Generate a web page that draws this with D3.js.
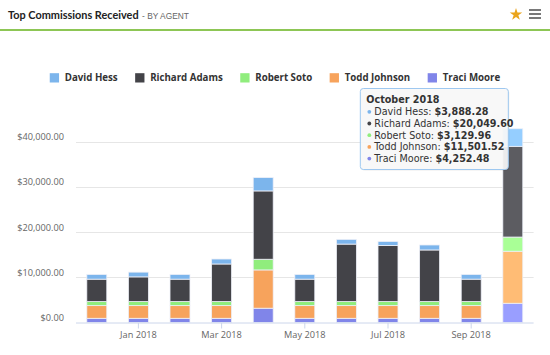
<!DOCTYPE html>
<html><head><meta charset="utf-8">
<script src="https://cdn.jsdelivr.net/npm/d3@7/dist/d3.min.js"></script>
<style>
html,body{margin:0;padding:0;background:#fff;}
svg{display:block;font-family:"Open Sans","Liberation Sans",Arial,sans-serif;}
</style></head>
<body>
<svg id="c" width="550" height="355"></svg>
<script>
const months = ["Dec 2017","Jan 2018","Feb 2018","Mar 2018","Apr 2018","May 2018","Jun 2018","Jul 2018","Aug 2018","Sep 2018","Oct 2018"];
const monthLabels = ["","Jan 2018","","Mar 2018","","May 2018","","Jul 2018","","Sep 2018",""];
const agents = ["David Hess","Richard Adams","Robert Soto","Todd Johnson","Traci Moore"];
const colors = ["#7cb5ec","#434348","#90ed7d","#f7a35c","#8085e9"];
const hoverColors = ["#95ceff","#5c5c61","#a9ff96","#ffbc75","#999eff"];
const davidHess    = [1040,1050,1040,1100,2950,1040,1040,880,1100,1040,3888.28];
const richardAdams = [4950,5450,4950,8300,15100,4950,12700,12400,11400,4950,20049.60];
const robertSoto   = [900,900,900,900,2360,900,900,900,900,900,3129.96];
const toddJohnson  = [2800,2800,2800,2800,8460,2800,2800,2800,2800,2800,11501.52];
const traciMoore   = [930,930,930,930,3160,930,930,930,930,930,4252.48];
const yTicks = [0,10000,20000,30000,40000];
const hoverIndex = 10;
const tooltipTitle = "October 2018";

const series = [davidHess, richardAdams, robertSoto, toddJohnson, traciMoore];
const svg = d3.select("#c");

// header
const title = svg.append("text").attr("x",8).attr("y",19).attr("font-family","Lato,'Liberation Sans',sans-serif")
  .attr("font-weight","bold").attr("font-size",10.9).attr("fill","#222").text("Top Commissions Received");
const tw = title.node().getComputedTextLength();
svg.append("text").attr("x",8+tw+3.5).attr("y",19).attr("font-family","'Liberation Sans Narrow','Liberation Sans',sans-serif")
  .attr("font-size",8.4).attr("fill","#666").text("- BY AGENT");
svg.append("rect").attr("x",0).attr("y",29).attr("width",550).attr("height",2).attr("fill","#8dc655");
svg.append("path").attr("d",d3.symbol(d3.symbolStar,48)()).attr("transform","translate(516,14.5)").attr("fill","#eaa41c");
[10,14,18].forEach(y=>svg.append("line").attr("x1",529).attr("x2",541).attr("y1",y).attr("y2",y).attr("stroke","#6a6a6a").attr("stroke-width",1.8));

// scales
const x = d3.scaleBand().domain(months).range([76,533.6]).paddingInner(0.52).paddingOuter(0.26);
const y = d3.scaleLinear().domain([0,40000]).range([322.5,141.5]);

// grid
svg.append("g").selectAll("line").data(yTicks.filter(d=>d>0)).join("line")
  .attr("x1",76).attr("x2",533.6).attr("y1",d=>Math.round(y(d))+0.5).attr("y2",d=>Math.round(y(d))+0.5)
  .attr("stroke","#e6e6e6").attr("stroke-width",1);
svg.append("g").selectAll("text").data(yTicks).join("text")
  .attr("x",64).attr("y",d=>y(d)-1.5).attr("text-anchor","end").attr("font-size",9.2).attr("fill","#666")
  .text(d=>"$"+d3.format(",.2f")(d));

// stacks (bottom: Traci)
const table = months.map((m,i)=>{const o={month:m}; agents.forEach((a,k)=>o[a]=series[k][i]); return o;});
const stack = d3.stack().keys(agents.slice().reverse())(table);
const gb = svg.append("g");
stack.forEach(layer=>{
  const k = agents.indexOf(layer.key);
  gb.append("g").selectAll("rect").data(layer).join("rect")
    .attr("x",d=>x(d.data.month)).attr("width",x.bandwidth())
    .attr("y",d=>y(d[1])).attr("height",d=>y(d[0])-y(d[1]))
    .attr("fill",(d,i)=>i===hoverIndex?hoverColors[k]:colors[k])
    .attr("stroke","#eef0f8").attr("stroke-width",0.8);
});

// x axis
svg.append("line").attr("x1",76).attr("x2",533.6).attr("y1",323).attr("y2",323).attr("stroke","#ccd6eb");
const labeled = months.filter((m,i)=>monthLabels[i]);
svg.append("g").selectAll("line").data(labeled).join("line")
  .attr("x1",d=>x(d)+x.bandwidth()/2).attr("x2",d=>x(d)+x.bandwidth()/2).attr("y1",323).attr("y2",328.5)
  .attr("stroke","#ccd6eb");
svg.append("g").selectAll("text").data(labeled).join("text")
  .attr("x",d=>x(d)+x.bandwidth()/2).attr("y",337.5).attr("text-anchor","middle").attr("font-size",9.2).attr("fill","#666")
  .text(d=>monthLabels[months.indexOf(d)]);

// legend
const lg = svg.append("g");
const items = agents.map((a,k)=>{
  const g = lg.append("g");
  g.append("rect").attr("y",73.2).attr("width",9.3).attr("height",9.3).attr("fill",colors[k]);
  const t = g.append("text").attr("x",15).attr("y",81.2).attr("font-size",9.7).attr("font-weight","bold").attr("fill","#333").text(a);
  return {g, w:15+t.node().getComputedTextLength()};
});
const gap = 17.5;
const total = d3.sum(items,d=>d.w)+gap*(items.length-1);
let cx = 275-total/2;
items.forEach(it=>{it.g.attr("transform",`translate(${cx},0)`); cx+=it.w+gap;});

// tooltip
const tx = x(months[hoverIndex]) - 142.5, ty = 88.5;
const tg = svg.append("g").attr("font-family","'DejaVu Sans',sans-serif").attr("transform",`translate(${tx},${ty})`);
tg.append("rect").attr("x",1).attr("y",1).attr("width",148).attr("height",81).attr("rx",3).attr("fill","rgba(0,0,0,0.08)");
tg.append("rect").attr("width",148).attr("height",81).attr("rx",3).attr("fill","rgba(249,249,249,0.92)").attr("stroke","#9ec8f0").attr("stroke-width",1);
tg.append("text").attr("x",6).attr("y",14.6).attr("font-weight","bold").attr("fill","#333").attr("font-size",9.6).text(tooltipTitle);
agents.forEach((a,k)=>{
  tg.append("circle").attr("cx",9).attr("cy",23.3+k*11.7).attr("r",1.9).attr("fill",colors[k]);
  const t = tg.append("text").attr("x",14).attr("y",26.8+k*11.7).attr("font-size",9.6).attr("fill","#333");
  t.append("tspan").text(a+": ");
  t.append("tspan").attr("font-weight","bold").text("$"+d3.format(",.2f")(series[k][hoverIndex]));
});
</script>
</body></html>
